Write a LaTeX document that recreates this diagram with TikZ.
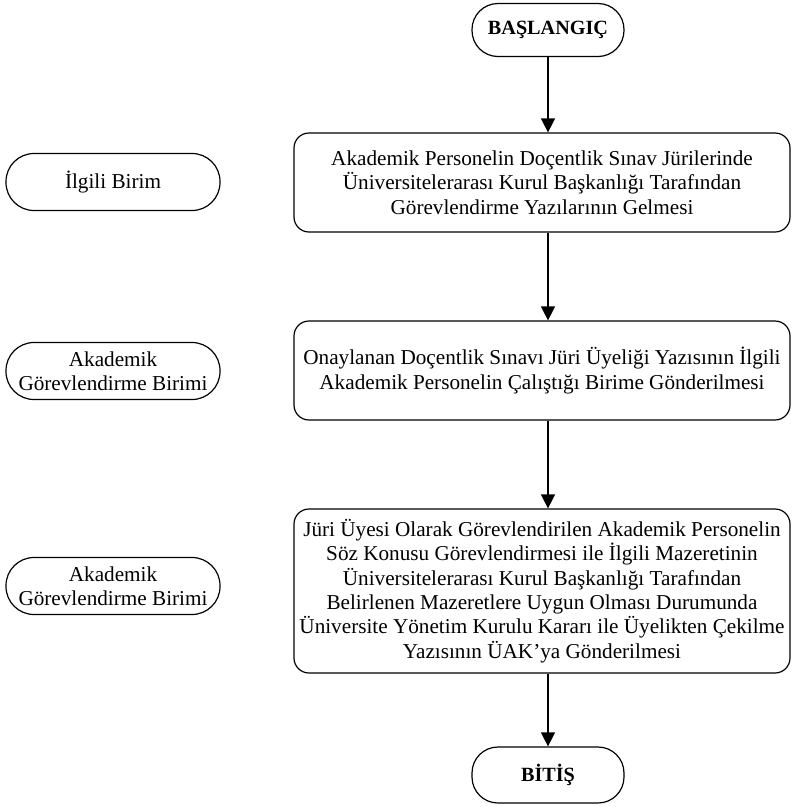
\documentclass[tikz,border=0pt]{standalone}
\usepackage{fontspec}
\setmainfont{Liberation Serif}
\usetikzlibrary{arrows.meta}
\begin{document}
\begin{tikzpicture}[x=1pt,y=-1pt,
  every node/.style={font=\fontsize{21.2}{24.3}\selectfont, align=center, inner sep=0pt},
  procbox/.style={draw, line width=1.2pt, rounded corners=15pt, minimum width=496pt},
  termbox/.style={draw, line width=1.2pt, rounded corners=26pt, minimum width=152pt, minimum height=53pt, font=\fontsize{20.2}{24.3}\selectfont\bfseries},
  unitbox/.style={draw, line width=1.2pt, rounded corners=28pt, minimum width=214pt, minimum height=57pt},
  flow/.style={line width=1.2pt, -{Triangle[width=14pt,length=14pt]}}
]
\useasboundingbox (0,0) rectangle (792,807);

\node[termbox] (start) at (548,30) {BAŞLANGIÇ};
\node[procbox, minimum height=99pt] (b1) at (542,182.5) {Akademik Personelin Doçentlik Sınav Jürilerinde\\Üniversitelerarası Kurul Başkanlığı Tarafından\\Görevlendirme Yazılarının Gelmesi};
\node[procbox, minimum height=99pt] (b2) at (542,370.5) {Onaylanan Doçentlik Sınavı Jüri Üyeliği Yazısının İlgili\\Akademik Personelin Çalıştığı Birime Gönderilmesi};
\node[procbox, minimum height=164pt] (b3) at (542,591) {Jüri Üyesi Olarak Görevlendirilen Akademik Personelin\\Söz Konusu Görevlendirmesi ile İlgili Mazeretinin\\Üniversitelerarası Kurul Başkanlığı Tarafından\\Belirlenen Mazeretlere Uygun Olması Durumunda\\Üniversite Yönetim Kurulu Kararı ile Üyelikten Çekilme\\Yazısının ÜAK’ya Gönderilmesi};
\node[termbox, minimum height=56pt] (end) at (548,775) {BİTİŞ};

\node[unitbox] (u1) at (113,182) {İlgili Birim};
\node[unitbox] (u2) at (113,371) {Akademik\\Görevlendirme Birimi};
\node[unitbox] (u3) at (113,586) {Akademik\\Görevlendirme Birimi};

\draw[flow] (start.south) -- (start.south |- b1.north);
\draw[flow] (start.south |- b1.south) -- (start.south |- b2.north);
\draw[flow] (start.south |- b2.south) -- (start.south |- b3.north);
\draw[flow] (start.south |- b3.south) -- (end.north);
\end{tikzpicture}
\end{document}
